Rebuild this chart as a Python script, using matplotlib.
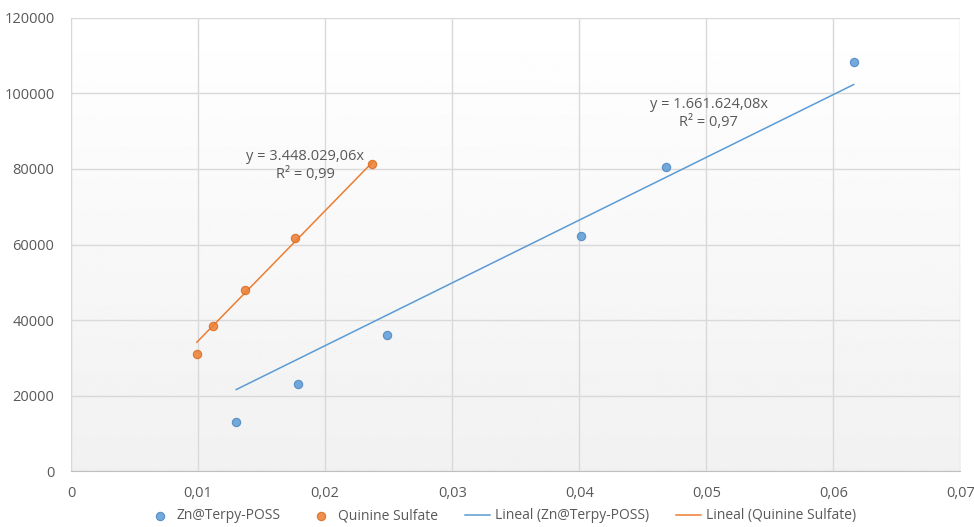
import numpy as np
import matplotlib.pyplot as plt
from matplotlib.ticker import FuncFormatter

# datos
zn_x = [0.0130, 0.0179, 0.0249, 0.0401, 0.0468, 0.0616]
zn_y = [13000, 23000, 36000, 62300, 80500, 108300]
qs_x = [0.0099, 0.0112, 0.0137, 0.0176, 0.0237]
qs_y = [31000, 38400, 47900, 61700, 81300]

# pendientes de las lineas de tendencia (ajuste por el origen)
zn_slope = 1661624.08
qs_slope = 3448029.06
zn_r2 = 0.97
qs_r2 = 0.99

azul = "#5b9bd5"
naranja = "#ed7d31"
gris_txt = "#595959"

plt.rcParams["font.family"] = ["Open Sans", "DejaVu Sans"]
plt.rcParams["font.size"] = 10

fig = plt.figure(figsize=(9.74, 5.27), dpi=100)
ax = fig.add_axes([0.073, 0.106, 0.913, 0.860])

# fondo degradado blanco -> gris claro
grad = np.linspace(1.0, 0.945, 256).reshape(-1, 1)
ax.imshow(grad, cmap="gray", vmin=0, vmax=1, aspect="auto",
          extent=[0, 1, 0, 1], transform=ax.transAxes, zorder=0)

ax.set_xlim(0, 0.07)
ax.set_ylim(0, 120000)
ax.set_xticks(np.arange(0, 0.0701, 0.01))
ax.set_yticks(np.arange(0, 120001, 20000))
ax.grid(True, color="#d9d9d9", linewidth=1, zorder=1)
ax.set_axisbelow(True)

def fmt_x(v, pos):
    if abs(v) < 1e-9:
        return "0"
    return ("%.2f" % v).replace(".", ",")

ax.xaxis.set_major_formatter(FuncFormatter(fmt_x))
ax.yaxis.set_major_formatter(FuncFormatter(lambda v, p: "%d" % v))

for s in ["top", "right"]:
    ax.spines[s].set_visible(False)
ax.spines["left"].set_color("#d9d9d9")
ax.spines["bottom"].set_color("#bfbfbf")
ax.tick_params(length=0, colors=gris_txt, labelsize=10.5)
ax.tick_params(axis="x", pad=11)
ax.tick_params(axis="y", pad=12)

# puntos
ax.scatter(zn_x, zn_y, s=36, color=azul, edgecolor="#4a86c0", linewidth=0.8,
           zorder=4, label="Zn@Terpy-POSS", alpha=0.85)
ax.scatter(qs_x, qs_y, s=36, color=naranja, edgecolor="#d86a20", linewidth=0.8,
           zorder=4, label="Quinine Sulfate", alpha=0.85)

# lineas de tendencia
xz = np.array([min(zn_x), max(zn_x)])
xq = np.array([min(qs_x), max(qs_x)])
ax.plot(xz, zn_slope * xz, color=azul, linewidth=1.1, zorder=3,
        label="Lineal (Zn@Terpy-POSS)")
ax.plot(xq, qs_slope * xq, color=naranja, linewidth=1.1, zorder=3,
        label="Lineal (Quinine Sulfate)")

def fmt_eq(m):
    s = "{:,.2f}".format(m)
    s = s.replace(",", "X").replace(".", ",").replace("X", ".")
    return "y = " + s + "x"

ax.text(0.01845, 76600, fmt_eq(qs_slope) + "\nR² = " + ("%.2f" % qs_r2).replace(".", ","),
        ha="center", va="bottom", color=gris_txt, fontsize=10.5, linespacing=1.25)
ax.text(0.0502, 90300, fmt_eq(zn_slope) + "\nR² = " + ("%.2f" % zn_r2).replace(".", ","),
        ha="center", va="bottom", color=gris_txt, fontsize=10.5, linespacing=1.25)

handles, labels = ax.get_legend_handles_labels()
leg = fig.legend(handles, labels, loc="center", bbox_to_anchor=(0.515, 0.021), ncol=4,
                 frameon=False, fontsize=10, handlelength=1.8, columnspacing=2.0,
                 handletextpad=0.3)
for t in leg.get_texts():
    t.set_color(gris_txt)

fig.savefig("out.png", dpi=100)
